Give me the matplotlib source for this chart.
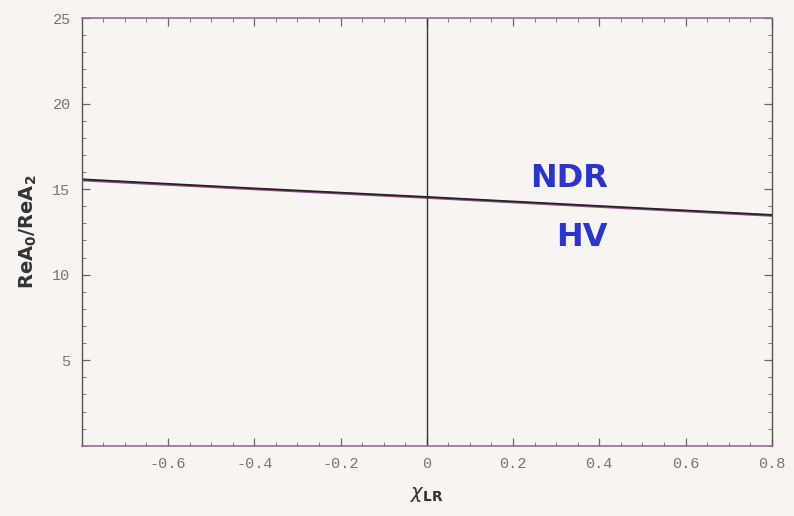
import matplotlib
matplotlib.use("Agg")
from matplotlib import pyplot as plt
from matplotlib.ticker import MultipleLocator

# data
x_lr = [-0.8, -0.4, 0.0, 0.4, 0.8]
ndr = [15.58, 15.05, 14.55, 14.02, 13.50]
hv = [15.52, 15.00, 14.50, 13.97, 13.45]
x_ticks = [-0.6, -0.4, -0.2, 0, 0.2, 0.4, 0.6, 0.8]
x_tick_labels = ['-0.6', '-0.4', '-0.2', '0', '0.2', '0.4', '0.6', '0.8']
y_ticks = [5, 10, 15, 20, 25]

bg = '#f8f4f2'
fig = plt.figure(figsize=(7.94, 5.16), dpi=100, facecolor=bg)
ax = fig.add_axes([0.103, 0.136, 0.869, 0.829], facecolor=bg)

ax.plot(x_lr, hv, color='#8a4a7a', lw=1.6)
ax.plot(x_lr, ndr, color='#222222', lw=1.2)
ax.axvline(0, color='#333333', lw=1.0)

ax.set_xlim(-0.8, 0.8)
ax.set_ylim(0, 25)
ax.set_xticks(x_ticks)
ax.set_xticklabels(x_tick_labels)
ax.set_yticks(y_ticks)
ax.xaxis.set_minor_locator(MultipleLocator(0.05))
ax.yaxis.set_minor_locator(MultipleLocator(1))
ax.tick_params(which='both', direction='in', top=True, right=True,
               colors='#666666', labelcolor='#777777')
ax.tick_params(which='major', length=6, width=0.9, labelsize=11, pad=8)
ax.tick_params(which='minor', length=3, width=0.6)
for lab in ax.get_xticklabels() + ax.get_yticklabels():
    lab.set_family('Liberation Mono')

for side in ['bottom', 'top']:
    ax.spines[side].set_color('#9a6a9a')
    ax.spines[side].set_linewidth(1.2)
for side in ['left', 'right']:
    ax.spines[side].set_color('#555555')
    ax.spines[side].set_linewidth(1.0)

ax.text(0.33, 15.65, 'NDR', color='#2a35d0', fontsize=23, fontweight='bold',
        ha='center', va='center')
ax.text(0.36, 12.2, 'HV', color='#2a35d0', fontsize=23, fontweight='bold',
        ha='center', va='center')

ax.set_ylabel(r'$\mathbf{ReA_0/ReA_2}$', fontsize=14, color='#333333', labelpad=10)
ax.set_xlabel(r'$\chi_{\mathbf{LR}}$', fontsize=14, color='#333333', labelpad=10)

fig.savefig('out.png', dpi=100, facecolor=bg)
